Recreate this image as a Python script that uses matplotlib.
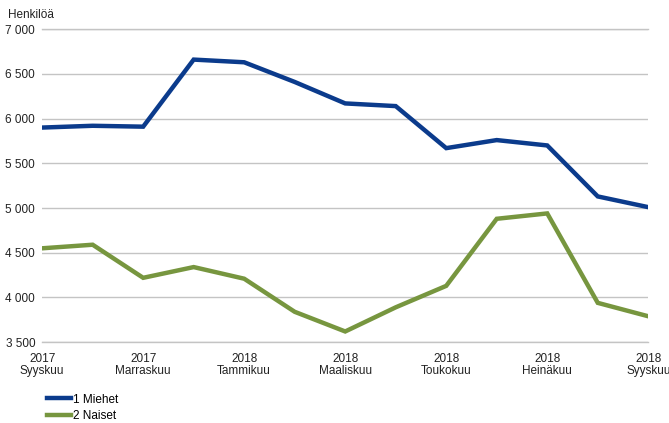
import matplotlib
matplotlib.use("Agg")
import matplotlib.pyplot as plt

plt.rcParams['font.family'] = ['Liberation Sans', 'DejaVu Sans']

# Months Sep 2017 - Sep 2018
months = list(range(13))
tick_pos = [0, 2, 4, 6, 8, 10, 12]
tick_labels = ["2017\nSyyskuu", "2017\nMarraskuu", "2018\nTammikuu", "2018\nMaaliskuu",
               "2018\nToukokuu", "2018\nHeinäkuu", "2018\nSyyskuu"]

miehet = [5900, 5920, 5910, 6660, 6630, 6410, 6170, 6140, 5670, 5760, 5700, 5130, 5010]
naiset = [4550, 4590, 4220, 4340, 4210, 3840, 3620, 3890, 4130, 4880, 4940, 3940, 3790]

yticks = [3500, 4000, 4500, 5000, 5500, 6000, 6500, 7000]

fig = plt.figure(figsize=(6.69, 4.23), dpi=100)
ax = fig.add_axes([0.063, 0.191, 0.906, 0.740])

ax.plot(months, miehet, color="#0b3b8c", lw=3.2, label="1 Miehet", solid_joinstyle="miter")
ax.plot(months, naiset, color="#77963f", lw=3.2, label="2 Naiset", solid_joinstyle="miter")

ax.set_xlim(0, 12)
ax.set_ylim(3500, 7000)
ax.set_yticks(yticks)
ax.set_yticklabels([f"{v:,}".replace(",", " ") for v in yticks])
ax.set_xticks(tick_pos)
ax.set_xticklabels(tick_labels)
ax.tick_params(length=0, labelsize=8.5, colors="#222222")
ax.tick_params(axis="y", pad=5)
ax.tick_params(axis="x", pad=8)
for lbl in ax.get_xticklabels():
    lbl.set_linespacing(1.0)

ax.grid(axis="y", color="#c4c4c4", lw=1)
for y in (3500, 7000):
    ax.axhline(y, color="#c4c4c4", lw=1, clip_on=False, zorder=0.5)
ax.set_axisbelow(True)
for s in ax.spines.values():
    s.set_visible(False)

fig.text(0.012, 0.965, "Henkilöä", fontsize=8.5, color="#222222", va="center")

fig.legend(loc="lower left", bbox_to_anchor=(0.055, -0.022), frameon=False, fontsize=8.5,
           handlelength=2.0, handletextpad=0.2, labelspacing=0.35)

fig.savefig("out.png", dpi=100)
